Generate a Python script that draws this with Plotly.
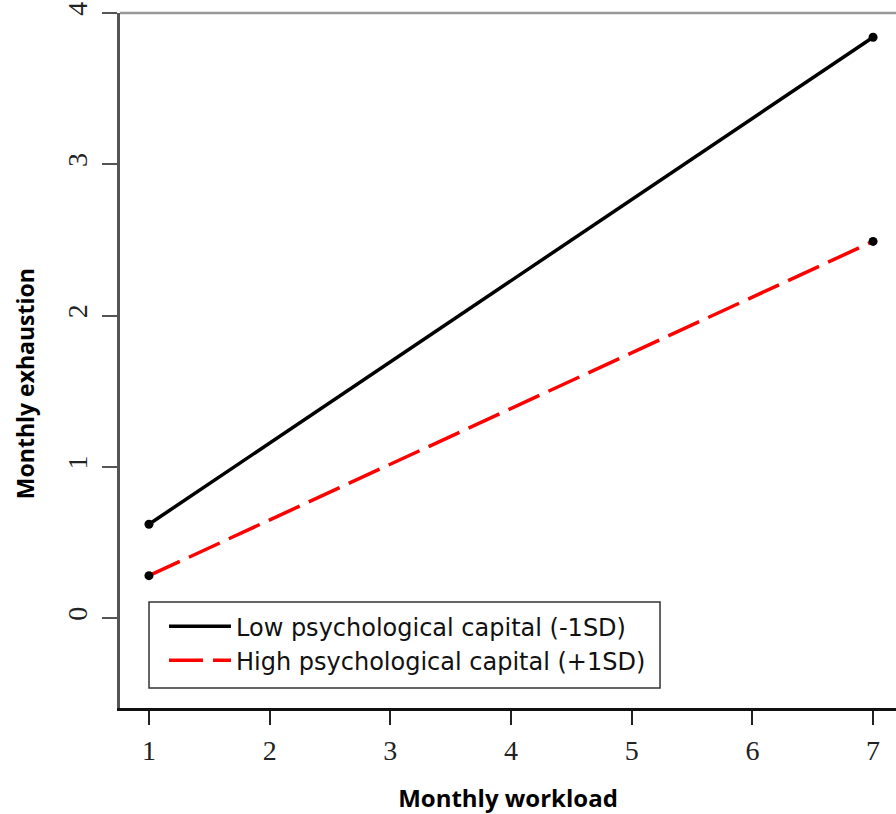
import plotly.graph_objects as go

workload = [1, 7]
low_psycap = [0.62, 3.84]
high_psycap = [0.28, 2.49]
x_ticks = [1, 2, 3, 4, 5, 6, 7]
y_ticks = [0, 1, 2, 3, 4]
series_names = ["Low psychological capital (-1SD)", "High psychological capital (+1SD)"]

fig = go.Figure()
fig.add_trace(go.Scatter(x=workload, y=low_psycap, mode="lines", name=series_names[0],
                         line=dict(color="black", width=3.5)))
fig.add_trace(go.Scatter(x=workload, y=high_psycap, mode="lines", name=series_names[1],
                         line=dict(color="#ff0000", width=3.5, dash="34px,10px")))
fig.add_trace(go.Scatter(x=workload + workload, y=low_psycap + high_psycap, mode="markers",
                         showlegend=False, marker=dict(color="black", size=9)))

# top frame line
fig.add_shape(type="line", xref="paper", yref="paper", x0=0, x1=1, y0=1, y1=1,
              line=dict(color="#999999", width=2.5))
# legend frame
fig.add_shape(type="rect", xref="paper", yref="paper", x0=0.0374, x1=0.6959,
              y0=0.0288, y1=0.1525, line=dict(color="#333333", width=1.5),
              fillcolor="white", layer="below")

# y-axis title
fig.add_annotation(text="<b>Monthly exhaustion</b>", xref="paper", yref="paper",
                   x=-0.1224, y=0.466, xanchor="center", yanchor="middle",
                   textangle=-90, showarrow=False,
                   font=dict(family="Open Sans", size=23, color="black"))

fig.update_layout(
    width=896, height=814,
    margin=dict(l=120, r=0, t=13, b=106),
    plot_bgcolor="white", paper_bgcolor="white",
    showlegend=True,
    legend=dict(x=0.0567, y=0.1496, xanchor="left", yanchor="top",
                bgcolor="rgba(0,0,0,0)", borderwidth=0,
                font=dict(family="DejaVu Sans", size=24, color="#111111"),
                tracegroupgap=0, itemwidth=62),
    xaxis=dict(range=[0.76, 7.19], tickvals=x_ticks, ticks="outside", ticklen=14,
               tickwidth=1.5, tickcolor="#222222", showline=True, linecolor="#111111",
               linewidth=2.5, showgrid=False, zeroline=False, ticklabelstandoff=2,
               tickfont=dict(family="Liberation Serif", size=28, color="#222222"),
               title=dict(text="<b>Monthly workload</b>", standoff=32,
                          font=dict(family="Open Sans", size=24, color="black"))),
    yaxis=dict(range=[-0.595, 4.0], tickvals=y_ticks, ticks="outside", ticklen=15,
               tickwidth=1.5, tickcolor="#555555", showline=True, linecolor="#555555",
               linewidth=2.5, showgrid=False, zeroline=False, tickangle=-90,
               ticklabelstandoff=4,
               tickfont=dict(family="Liberation Serif", size=28, color="#222222")),
)

fig.write_html("out.html", config={"displayModeBar": False},
               post_script="document.body.style.margin='0';")
